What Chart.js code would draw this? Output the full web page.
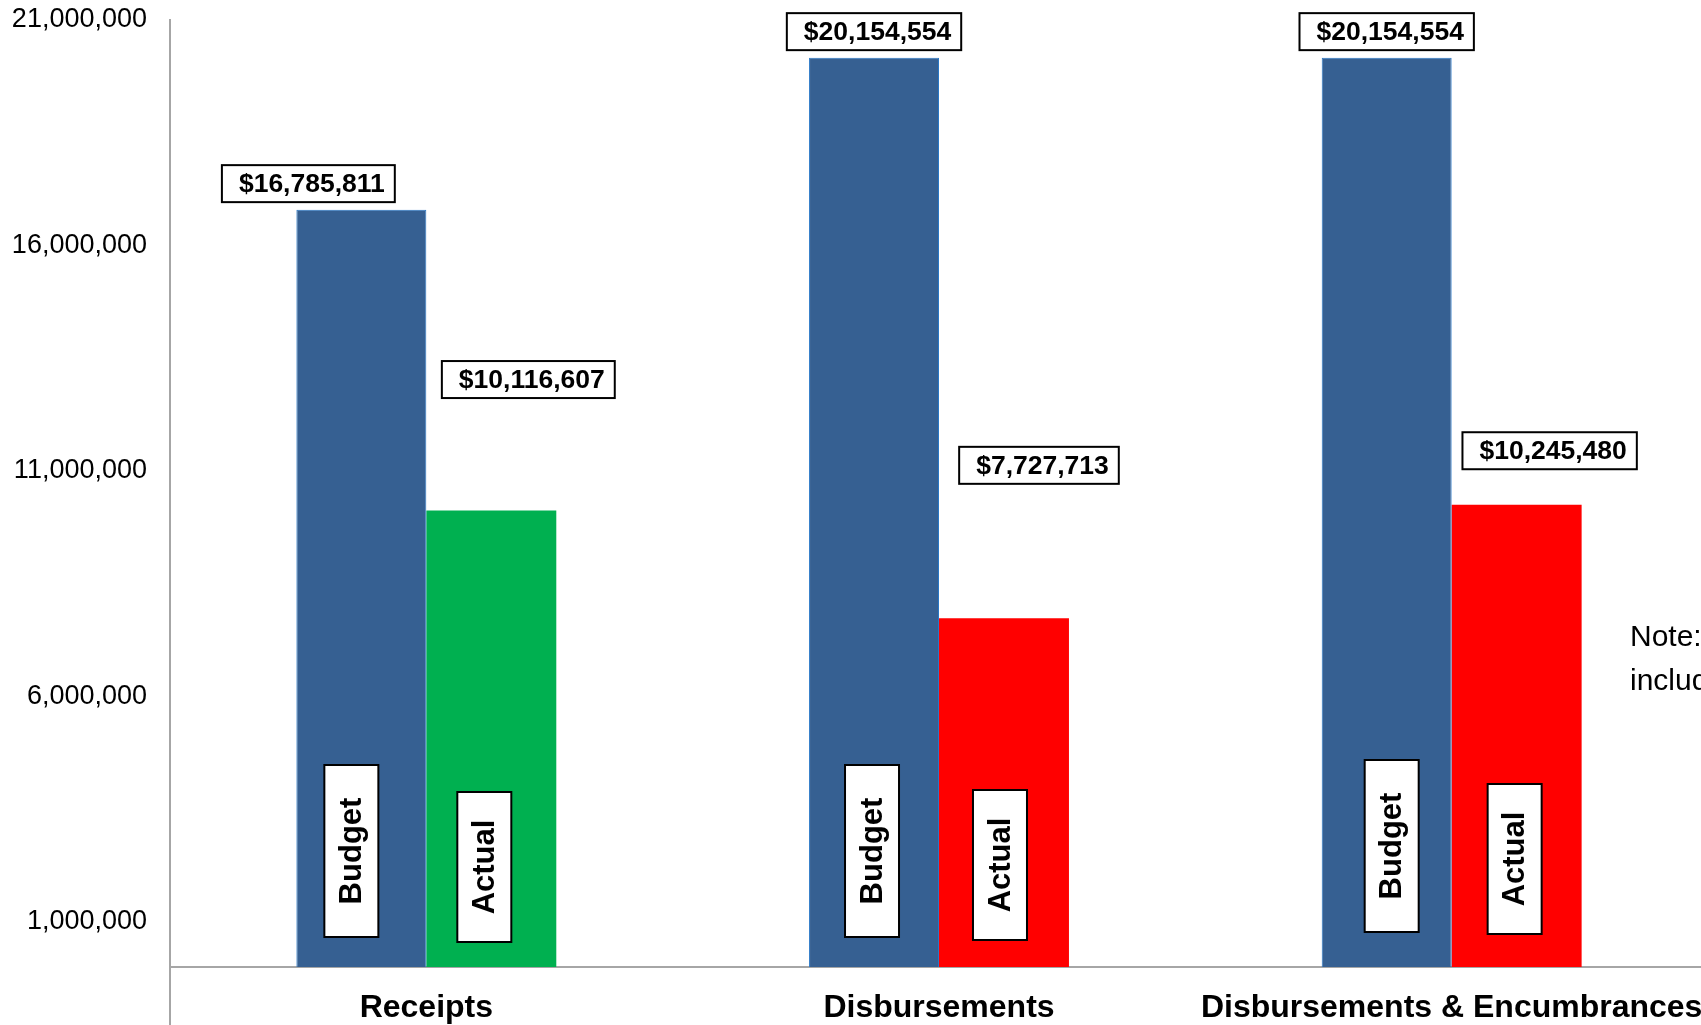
<!DOCTYPE html>
<html>
<head>
<meta charset="utf-8">
<script src="https://cdn.jsdelivr.net/npm/chart.js@4/dist/chart.umd.min.js"></script>
<style>
  html, body { margin: 0; padding: 0; background: #fff; overflow: hidden; }
  #wrap { width: 1701px; height: 1025px; overflow: hidden; }
</style>
</head>
<body>
<div id="wrap"><canvas id="budgetChart" width="1720" height="1025"></canvas></div>
<script>
// data
const categories = ['Receipts', 'Disbursements', 'Disbursements & Encumbrances'];
const seriesNames = ['Budget', 'Actual'];
const budgetValues = [16785811, 20154554, 20154554];
const actualValues = [10116607, 7727713, 10245480];
const yTicks = [1000000, 6000000, 11000000, 16000000, 21000000];
const noteLines = ['Note: Disbursements & Encumbrances', 'includes outstanding obligations'];

// colours
const budgetColor = '#366092';
const actualColors = ['#00B050', '#FF0000', '#FF0000'];
const axisColor = '#a6a6a6';
const FONT = '"Liberation Sans", Arial, sans-serif';

// hand placed label offsets (px), relative to bar centre / top, like the excel original
const valueOffsets = [
  [[-53, -26], [0, -26], [0, -26]],
  [[37, -131], [35, -153], [33, -54]]
];
const nameOffsets = [
  [[-10, -116], [-2, -116], [5, -121]],
  [[-7, -100], [-4, -102], [-2, -108]]
];
const nameBoxLen = [172, 150];

function money(v) {
  return '$' + v.toLocaleString('en-US');
}

function box(ctx, cx, cy, w, h) {
  ctx.fillStyle = '#fff';
  ctx.fillRect(cx - w / 2, cy - h / 2, w, h);
  ctx.strokeStyle = '#000';
  ctx.lineWidth = 2;
  ctx.strokeRect(cx - w / 2, cy - h / 2, w, h);
}

const labelPlugin = {
  id: 'barLabels',
  afterDatasetsDraw(chart) {
    const ctx = chart.ctx;
    const area = chart.chartArea;
    ctx.save();

    // y axis line carries on down through the category labels
    ctx.strokeStyle = axisColor;
    ctx.lineWidth = 2;
    ctx.beginPath();
    ctx.moveTo(area.left, area.bottom);
    ctx.lineTo(area.left, chart.height);
    ctx.stroke();

    chart.data.datasets.forEach((ds, i) => {
      const meta = chart.getDatasetMeta(i);
      meta.data.forEach((bar, j) => {
        // value box above the bar
        ctx.font = 'bold 26.5px ' + FONT;
        const txt = money(ds.data[j]);
        const tw = ctx.measureText(txt).width;
        const vx = bar.x + valueOffsets[i][j][0];
        const vy = bar.y + valueOffsets[i][j][1];
        box(ctx, vx, vy, tw + 27, 37);
        ctx.fillStyle = '#000';
        ctx.textAlign = 'center';
        ctx.textBaseline = 'middle';
        ctx.fillText(txt, vx + 3.5, vy + 1);

        // series name, rotated, inside the bar
        const nx = bar.x + nameOffsets[i][j][0];
        const ny = bar.base + nameOffsets[i][j][1];
        box(ctx, nx, ny, 54, nameBoxLen[i]);
        ctx.save();
        ctx.translate(nx, ny);
        ctx.rotate(-Math.PI / 2);
        ctx.font = 'bold 31px ' + FONT;
        ctx.fillStyle = '#000';
        ctx.fillText(ds.label, 0, 1);
        ctx.restore();
      });
    });

    // note on the right, cut off by the window edge
    ctx.font = '30px ' + FONT;
    ctx.fillStyle = '#000';
    ctx.textAlign = 'left';
    ctx.textBaseline = 'middle';
    ctx.fillText(noteLines[0], area.right - 78, 638);
    ctx.fillText(noteLines[1], area.right - 78, 682);
    ctx.restore();
  }
};

const ctx = document.getElementById('budgetChart').getContext('2d');
new Chart(ctx, {
  type: 'bar',
  data: {
    labels: categories,
    datasets: [{
      label: seriesNames[0],
      data: budgetValues,
      backgroundColor: budgetColor,
      borderColor: '#2a78c6',
      borderWidth: { top: 1, left: 1, right: 1, bottom: 0 },
    }, {
      label: seriesNames[1],
      data: actualValues,
      backgroundColor: actualColors,
      borderWidth: 0,
    }],
  },
  options: {
    responsive: false,
    animation: false,
    devicePixelRatio: 1,
    categoryPercentage: 0.507,
    barPercentage: 1.0,
    layout: { padding: { top: 0, right: 12, left: 0, bottom: 0 } },
    plugins: {
      legend: { display: false },
      tooltip: { enabled: false },
    },
    scales: {
      x: {
        grid: { display: true, drawOnChartArea: false, drawTicks: false },
        border: { display: true, color: axisColor, width: 2 },
        ticks: {
          color: '#000',
          padding: 22,
          maxRotation: 0,
          autoSkip: false,
          font: { family: FONT, size: 32, weight: 'bold' },
        },
        afterFit(scale) {
          scale.height = 58;
          scale.paddingLeft = 0;
          scale.paddingRight = 0;
        },
      },
      y: {
        min: 0,
        max: 21000000,
        grid: { display: true, drawOnChartArea: false, drawTicks: false },
        border: { display: true, color: axisColor, width: 2 },
        afterBuildTicks(scale) {
          scale.ticks = yTicks.map(v => ({ value: v }));
        },
        ticks: {
          color: '#000',
          padding: 23,
          font: { family: FONT, size: 27 },
          callback: v => v.toLocaleString('en-US'),
        },
        afterFit(scale) {
          scale.width = 170;
          scale.paddingTop = 19.5;
          scale.paddingBottom = 0;
        },
      },
    },
  },
  plugins: [labelPlugin],
});
</script>
</body>
</html>
